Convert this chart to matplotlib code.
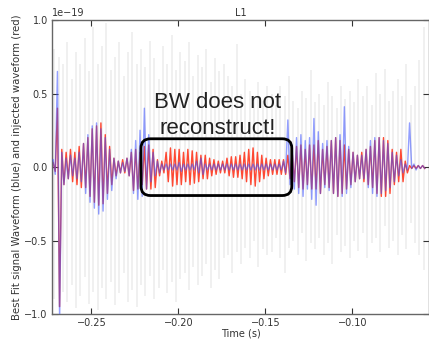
import numpy as np
import matplotlib
matplotlib.use("Agg")
import matplotlib.pyplot as plt
from matplotlib.patches import FancyBboxPatch

# ---- data (units of 1e-19), one value per oscillation cycle ----
t_start = -0.2727
period = 0.0025
scale = 1e-19

blue_up = [0.05, 0.65, 0.10, 0.06, 0.08, 0.06, 0.10, 0.16, 0.22, 0.28,
           0.30, 0.26, 0.20, 0.12, 0.06, 0.04, 0.03, 0.06, 0.12, 0.18,
           0.25, 0.40, 0.22, 0.10, 0.04, 0.02, 0.02, 0.02, 0.02, 0.03,
           0.02, 0.02, 0.02, 0.04, 0.06, 0.02, 0.02, 0.02, 0.02, 0.02,
           0.02, 0.02, 0.02, 0.02, 0.02, 0.02, 0.02, 0.02, 0.02, 0.02,
           0.02, 0.02, 0.02, 0.04, 0.32, 0.15, 0.20, 0.22, 0.18, 0.20,
           0.33, 0.24, 0.16, 0.18, 0.18, 0.20, 0.22, 0.41, 0.14, 0.10,
           0.08, 0.08, 0.12, 0.18, 0.20, 0.20, 0.18, 0.16, 0.10, 0.08,
           0.05, 0.02, 0.30, 0.02, 0.01, 0.01]
blue_down = [0.05, 1.05, 0.12, 0.08, 0.06, 0.08, 0.10, 0.18, 0.24, 0.28,
             0.32, 0.30, 0.22, 0.16, 0.08, 0.04, 0.03, 0.06, 0.18, 0.22,
             0.20, 0.15, 0.10, 0.06, 0.04, 0.02, 0.02, 0.02, 0.02, 0.03,
             0.02, 0.02, 0.02, 0.04, 0.05, 0.02, 0.02, 0.02, 0.02, 0.02,
             0.02, 0.02, 0.02, 0.02, 0.02, 0.02, 0.02, 0.02, 0.02, 0.02,
             0.02, 0.02, 0.02, 0.04, 0.12, 0.15, 0.18, 0.20, 0.15, 0.22,
             0.26, 0.18, 0.14, 0.16, 0.18, 0.20, 0.20, 0.18, 0.14, 0.10,
             0.08, 0.08, 0.14, 0.18, 0.20, 0.18, 0.16, 0.14, 0.10, 0.06,
             0.04, 0.02, 0.01, 0.02, 0.01, 0.01]
red_up = [0.03, 0.40, 0.12, 0.10, 0.12, 0.10, 0.14, 0.16, 0.20, 0.26,
          0.28, 0.30, 0.22, 0.14, 0.06, 0.04, 0.05, 0.06, 0.10, 0.12,
          0.10, 0.14, 0.15, 0.12, 0.05, 0.04, 0.10, 0.13, 0.12, 0.12,
          0.10, 0.12, 0.11, 0.10, 0.08, 0.08, 0.06, 0.05, 0.04, 0.04,
          0.06, 0.07, 0.07, 0.08, 0.10, 0.12, 0.13, 0.10, 0.08, 0.06,
          0.05, 0.05, 0.05, 0.05, 0.08, 0.10, 0.14, 0.15, 0.12, 0.15,
          0.15, 0.18, 0.12, 0.14, 0.18, 0.20, 0.18, 0.15, 0.12, 0.10,
          0.08, 0.10, 0.12, 0.14, 0.18, 0.20, 0.20, 0.18, 0.12, 0.10,
          0.12, 0.04, 0.01, 0.01, 0.01, 0.01]
red_down = [0.03, 0.95, 0.12, 0.08, 0.10, 0.12, 0.14, 0.14, 0.20, 0.24,
            0.26, 0.25, 0.18, 0.12, 0.06, 0.04, 0.04, 0.06, 0.16, 0.15,
            0.12, 0.15, 0.15, 0.14, 0.06, 0.04, 0.10, 0.13, 0.12, 0.12,
            0.10, 0.12, 0.11, 0.10, 0.08, 0.08, 0.06, 0.05, 0.04, 0.04,
            0.06, 0.07, 0.07, 0.08, 0.10, 0.12, 0.13, 0.10, 0.08, 0.06,
            0.05, 0.05, 0.05, 0.05, 0.08, 0.10, 0.14, 0.15, 0.12, 0.15,
            0.15, 0.18, 0.12, 0.14, 0.18, 0.20, 0.18, 0.15, 0.12, 0.10,
            0.08, 0.10, 0.12, 0.14, 0.18, 0.20, 0.20, 0.18, 0.12, 0.10,
            0.10, 0.04, 0.01, 0.01, 0.01, 0.01]
gray_top = [0.80, 0.75, 0.70, 0.85, 0.60, 0.78, 0.70, 0.88, 0.65, 0.95,
            0.70, 0.82, 0.98, 0.66, 0.75, 0.85, 0.62, 0.78, 0.92, 0.70,
            0.80, 0.68, 0.86, 0.74, 0.60, 0.82, 0.70, 0.90, 0.66, 0.78,
            0.72, 0.85, 0.62, 0.76, 0.68, 0.80, 0.58, 0.74, 0.65, 0.70,
            0.62, 0.55, 0.84, 0.50, 0.60, 0.52, 0.48, 0.58, 0.45, 0.55,
            0.50, 0.42, 0.55, 0.48, 0.62, 0.45, 0.40, 0.52, 0.47, 0.66,
            0.44, 0.50, 0.42, 0.58, 0.48, 0.40, 0.55, 0.46, 0.52, 0.44,
            0.60, 0.48, 0.55, 0.42, 0.64, 0.50, 0.67, 0.45, 0.52, 0.60,
            0.48, 0.70, 0.42, 0.55, 0.73, 0.95]
gray_bot = [0.90, 0.95, 0.85, 0.92, 0.80, 0.96, 0.88, 0.75, 0.93, 0.85,
            0.97, 0.82, 0.90, 0.78, 0.94, 0.86, 0.72, 0.92, 0.84, 0.95,
            0.80, 0.88, 0.74, 0.90, 0.82, 0.70, 0.86, 0.78, 0.92, 0.76,
            0.72, 0.84, 0.68, 0.80, 0.74, 0.66, 0.82, 0.70, 0.76, 0.62,
            0.60, 0.72, 0.58, 0.66, 0.55, 0.62, 0.50, 0.68, 0.56, 0.60,
            0.58, 0.48, 0.62, 0.72, 0.55, 0.50, 0.60, 0.45, 0.64, 0.52,
            0.56, 0.48, 0.60, 0.52, 0.66, 0.46, 0.58, 0.54, 0.62, 0.50,
            0.57, 0.45, 0.62, 0.52, 0.48, 0.58, 0.40, 0.55, 0.50, 0.60,
            0.46, 0.56, 0.38, 0.52, 0.60, 0.70]

xticks = [-0.25, -0.20, -0.15, -0.10]
title = "L1"
xlabel = "Time (s)"
ylabel = "Best Fit signal Waveform (blue) and injected waveform (red)"
note = "BW does not\nreconstruct!"


def zigzag(up, down):
    n = len(up)
    k = np.arange(n)
    t = np.empty(2 * n)
    v = np.empty(2 * n)
    t[0::2] = t_start + (k + 0.25) * period
    t[1::2] = t_start + (k + 0.75) * period
    v[0::2] = np.array(up)
    v[1::2] = -np.array(down)
    return t, v * scale


fig = plt.figure(figsize=(4.29, 3.39), dpi=100)
ax = fig.add_axes([0.1212, 0.0737, 0.8788, 0.8673])

# gray background traces
kg = np.arange(len(gray_top))
tg = t_start + (kg + 0.5) * period
ax.vlines(tg, -np.array(gray_bot) * scale, np.array(gray_top) * scale,
          color="#f0f0f0", lw=1.4, zorder=1)

tr, vr = zigzag(red_up, red_down)
tb, vb = zigzag(blue_up, blue_down)
ax.plot(tr, vr, color="#ff2a10", lw=1.0, alpha=0.85, zorder=2)
ax.plot(tb, vb, color="#3a50ff", lw=1.0, alpha=0.55, zorder=3)

ax.set_xlim(-0.2727, -0.0559)
ax.set_ylim(-1.0 * scale, 1.0 * scale)
ax.set_xticks(xticks)
ax.set_yticks(np.array([-1.0, -0.5, 0.0, 0.5, 1.0]) * scale)
ax.tick_params(direction="in", top=True, right=True, length=4, width=0.8,
               labelsize=7, colors="#333333", pad=3)
ax.yaxis.get_offset_text().set_fontsize(7)
ax.yaxis.get_offset_text().set_color("#333333")
for s in ax.spines.values():
    s.set_color("#666666")
    s.set_linewidth(1.0)

ax.set_title(title, fontsize=7, color="#333333", pad=3)
ax.set_xlabel(xlabel, fontsize=7, color="#333333", labelpad=0)
ax.set_ylabel(ylabel, fontsize=7.3, color="#333333", labelpad=2)

# annotation box
axw, axh = 377.0, 294.0
box = FancyBboxPatch((0.236, 0.403), 0.400, 0.193,
                     boxstyle="round,pad=0,rounding_size=0.025",
                     mutation_aspect=axw / axh,
                     transform=ax.transAxes, fill=False, ec="black",
                     lw=2.0, zorder=5)
ax.add_patch(box)
ax.text(0.439, 0.674, note, transform=ax.transAxes, ha="center", va="center",
        fontsize=16, family="Liberation Sans", color="#222222",
        linespacing=1.3, zorder=6)

fig.savefig("out.png", dpi=100)
